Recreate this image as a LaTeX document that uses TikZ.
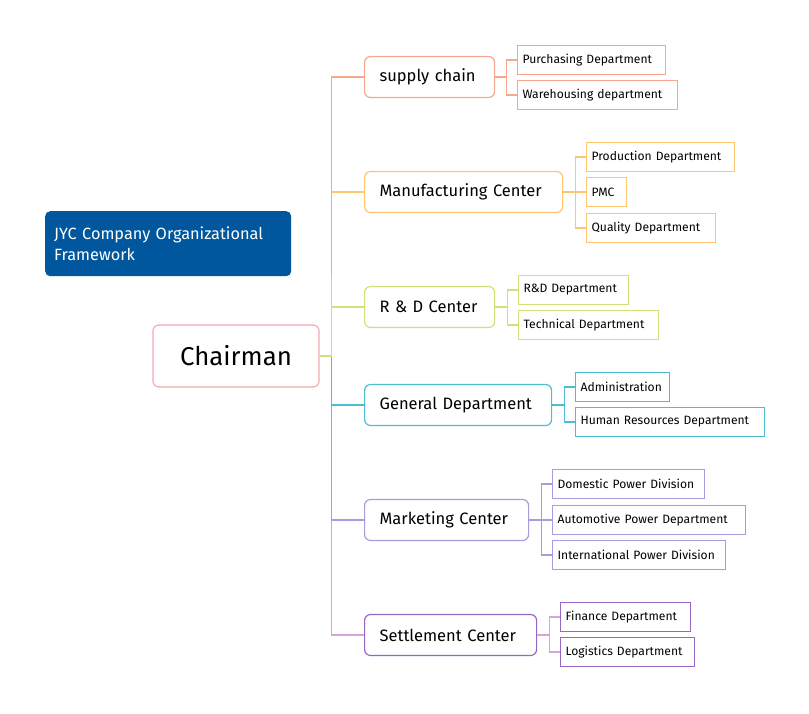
\documentclass[tikz,border=0pt]{standalone}
\usepackage{fontspec}
\setmainfont{Fira Sans}
\usepackage{tikz}
\usetikzlibrary{calc, positioning}
\definecolor{cSal}{HTML}{F7A78B}
\definecolor{cOra}{HTML}{FFC66E}
\definecolor{cGrn}{HTML}{D3DF78}
\definecolor{cCya}{HTML}{4DBDD2}
\definecolor{cLav}{HTML}{A49DE0}
\definecolor{cPur}{HTML}{9866C7}
\definecolor{cPnk}{HTML}{D7A3D8}
\definecolor{cChr}{HTML}{F5A9B2}
\definecolor{cBlu}{HTML}{00579D}
\tikzstyle{title}  = [rectangle, rounded corners=5pt, fill=cBlu, text=white, anchor=north west, minimum height=65pt, inner xsep=9pt, text width=228pt, align=left, font=\fontsize{16.3}{21}\selectfont]
\tikzstyle{root}   = [rectangle, rounded corners=6pt, draw=cChr, fill=white, line width=1.2pt, minimum width=166pt, minimum height=62pt, font=\fontsize{25.8}{28}\selectfont]
\tikzstyle{center} = [rectangle, rounded corners=6pt, draw=#1, fill=white, line width=1.2pt, anchor=west, minimum height=41pt, inner xsep=15pt, align=left, font=\fontsize{16.5}{19}\selectfont]
\tikzstyle{dept}   = [rectangle, draw=#1, fill=white, line width=1.2pt, anchor=west, minimum height=29pt, inner xsep=5pt, align=left, font={\fontsize{12.1}{15}\selectfont\hyphenpenalty=10000\relax}]
\tikzstyle{link}   = [line width=1.2pt]
\begin{document}
\begin{tikzpicture}[x=1pt, y=-1pt]
    \useasboundingbox (0,0) rectangle (809,713);

    \node (ttl) [title] at (45,211) {JYC Company Organizational\\Framework};
    \node (ch)  [root]  at (236,356) {Chairman};

    % centers
    \node (sc)  [center=cSal, text width=100pt] at (364,77)  {supply chain};
    \node (mc)  [center=cOra, text width=168pt] at (364,192) {Manufacturing Center};
    \node (rd)  [center=cGrn, text width=100pt] at (364,307) {R \& D Center};
    \node (gd)  [center=cCya, text width=157pt] at (364,405) {General Department};
    \node (mk)  [center=cLav, text width=134pt] at (364,520) {Marketing Center};
    \node (st)  [center=cPur, text width=142pt] at (364,635) {Settlement Center};

    % departments
    \node (pur) [dept=cSal, text width=138pt] at (517,60)  {Purchasing Department};
    \node (war) [dept=cSal, text width=150pt] at (517,95)  {Warehousing department};
    \node (pro) [dept=cOra, text width=138pt] at (586,157) {Production Department};
    \node (pmc) [dept=cOra, text width=30pt]  at (586,192) {PMC};
    \node (qua) [dept=cOra, text width=119pt] at (586,228) {Quality Department};
    \node (rdd) [dept=cGrn, text width=100pt] at (518,290) {R\&D Department};
    \node (tec) [dept=cGrn, text width=130pt] at (518,325) {Technical Department};
    \node (adm) [dept=cCya, text width=84pt]  at (575,387) {Administration};
    \node (hrd) [dept=cCya, text width=179pt] at (575,422) {Human Resources Department};
    \node (dom) [dept=cLav, text width=142pt] at (552,484) {Domestic Power Division};
    \node (aut) [dept=cLav, text width=183pt] at (552,520) {Automotive Power Department};
    \node (int) [dept=cLav, text width=163pt] at (552,555) {International Power Division};
    \node (fin) [dept=cPur, text width=120pt] at (560,617) {Finance Department};
    \node (log) [dept=cPur, text width=124pt] at (560,652) {Logistics Department};

    % trunk
    \draw [link, cPnk] (ch.east) -- ++(12,0) |- (st.west);
    \draw [link, cLav] (ch.east) -- ++(12,0) |- (mk.west);
    \draw [link, cCya] (ch.east) -- ++(12,0) |- (gd.west);
    \draw [link, cOra] (ch.east) -- ++(12,0) |- (mc.west);
    \draw [link, cSal] ($(ch.east)+(12,-80)$) |- (sc.west);
    \draw [link, cGrn] (ch.east) -- ++(12,0) |- (rd.west);

    % branches
    \draw [link, cSal] (sc.east) -- ++(11,0) |- (pur.west);
    \draw [link, cSal] (sc.east) -- ++(11,0) |- (war.west);
    \draw [link, cOra] (mc.east) -- ++(12,0) |- (pro.west);
    \draw [link, cOra] (mc.east) -- (pmc.west);
    \draw [link, cOra] (mc.east) -- ++(12,0) |- (qua.west);
    \draw [link, cGrn] (rd.east) -- ++(12,0) |- (rdd.west);
    \draw [link, cGrn] (rd.east) -- ++(12,0) |- (tec.west);
    \draw [link, cCya] (gd.east) -- ++(12,0) |- (adm.west);
    \draw [link, cCya] (gd.east) -- ++(12,0) |- (hrd.west);
    \draw [link, cLav] (mk.east) -- ++(12,0) |- (dom.west);
    \draw [link, cLav] (mk.east) -- (aut.west);
    \draw [link, cLav] (mk.east) -- ++(12,0) |- (int.west);
    \draw [link, cPnk] (st.east) -- ++(12,0) |- (fin.west);
    \draw [link, cPnk] (st.east) -- ++(12,0) |- (log.west);
\end{tikzpicture}
\end{document}
